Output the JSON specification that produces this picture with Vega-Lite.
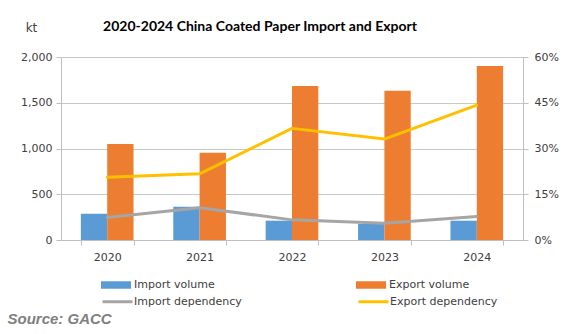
{
  "$schema": "https://vega.github.io/schema/vega-lite/v6.json",
  "width": 462,
  "height": 183,
  "autosize": "none",
  "padding": {"left": 61, "top": 57, "right": 55, "bottom": 94},
  "background": "white",
  "title": {"text": "2020-2024 China Coated Paper Import and Export", "font": "Lato", "fontSize": 14, "fontWeight": "bold", "color": "#000000", "anchor": "middle", "offset": -13, "dx": -32, "frame": "group"},
  "config": {"view": {"stroke": null}, "font": "DejaVu Sans"},
  "data": {"values": [
    {"year": "2020", "series": "Import volume", "kind": "volume", "value": 287},
    {"year": "2021", "series": "Import volume", "kind": "volume", "value": 364},
    {"year": "2022", "series": "Import volume", "kind": "volume", "value": 211},
    {"year": "2023", "series": "Import volume", "kind": "volume", "value": 175},
    {"year": "2024", "series": "Import volume", "kind": "volume", "value": 211},
    {"year": "2020", "series": "Export volume", "kind": "volume", "value": 1049},
    {"year": "2021", "series": "Export volume", "kind": "volume", "value": 954},
    {"year": "2022", "series": "Export volume", "kind": "volume", "value": 1683},
    {"year": "2023", "series": "Export volume", "kind": "volume", "value": 1632},
    {"year": "2024", "series": "Export volume", "kind": "volume", "value": 1902},
    {"year": "2020", "series": "Import dependency", "kind": "dependency", "value": 0.074},
    {"year": "2021", "series": "Import dependency", "kind": "dependency", "value": 0.106},
    {"year": "2022", "series": "Import dependency", "kind": "dependency", "value": 0.066},
    {"year": "2023", "series": "Import dependency", "kind": "dependency", "value": 0.055},
    {"year": "2024", "series": "Import dependency", "kind": "dependency", "value": 0.077},
    {"year": "2020", "series": "Export dependency", "kind": "dependency", "value": 0.206},
    {"year": "2021", "series": "Export dependency", "kind": "dependency", "value": 0.217},
    {"year": "2022", "series": "Export dependency", "kind": "dependency", "value": 0.366},
    {"year": "2023", "series": "Export dependency", "kind": "dependency", "value": 0.331},
    {"year": "2024", "series": "Export dependency", "kind": "dependency", "value": 0.442}
  ]},
  "layer": [
    {
      "transform": [{"filter": "datum.kind == 'volume'"}],
      "mark": {"type": "bar"},
      "encoding": {
        "x": {
          "field": "year", "type": "nominal",
          "scale": {"paddingInner": 0.43, "paddingOuter": 0.215},
          "axis": {
            "labelAngle": 0, "labelFontSize": 11, "labelColor": "#404040", "labelPadding": 6,
            "tickBand": "extent", "tickSize": 5, "tickColor": "#bfbfbf", "domainColor": "#bfbfbf",
            "grid": false,
            "title": "Source: GACC", "titleX": -54, "titleY": 78, "titleAlign": "left", "titleBaseline": "middle",
            "titleFont": "Liberation Sans", "titleFontSize": 15, "titleFontStyle": "italic", "titleFontWeight": "bold", "titleColor": "#808080"
          }
        },
        "xOffset": {"field": "series", "type": "nominal", "sort": ["Import volume", "Export volume"]},
        "y": {
          "field": "value", "type": "quantitative",
          "scale": {"domain": [0, 2000]},
          "axis": {
            "values": [0, 500, 1000, 1500, 2000], "format": ",.0f",
            "grid": true, "gridColor": "#c8c8c8", "domainColor": "#bfbfbf", "tickColor": "#bfbfbf", "tickSize": 5,
            "labelPadding": 4, "labelFontSize": 11, "labelColor": "#404040",
            "title": "kt", "titleAngle": 0, "titleX": -30, "titleY": -30, "titleAlign": "center", "titleBaseline": "middle",
            "titleFontSize": 12, "titleFontWeight": "normal", "titleColor": "#404040"
          }
        },
        "fill": {
          "field": "series", "type": "nominal",
          "scale": {"domain": ["Import volume", "Export volume"], "range": ["#5b9bd5", "#ed7d31"]},
          "legend": {
            "orient": "none", "legendX": 40, "legendY": 213, "direction": "horizontal", "columns": 2, "columnPadding": 141,
            "title": null, "padding": 0, "symbolType": "M-1,-0.25H1V0.25H-1Z", "symbolSize": 900, "symbolStrokeWidth": 0,
            "labelFontSize": 11, "labelColor": "#404040", "labelOffset": 3, "labelLimit": 300
          }
        }
      }
    },
    {
      "transform": [{"filter": "datum.kind == 'dependency'"}],
      "mark": {"type": "line", "strokeWidth": 3, "interpolate": "linear", "strokeJoin": "round", "strokeCap": "round"},
      "encoding": {
        "x": {"field": "year", "type": "nominal"},
        "y": {
          "field": "value", "type": "quantitative",
          "scale": {"domain": [0, 0.6]},
          "axis": {
            "orient": "right", "values": [0, 0.15, 0.3, 0.45, 0.6], "format": ".0%",
            "grid": false, "domainColor": "#bfbfbf", "tickColor": "#bfbfbf", "tickSize": 5,
            "labelPadding": 6, "labelFontSize": 11, "labelColor": "#404040", "title": null
          }
        },
        "stroke": {
          "field": "series", "type": "nominal",
          "scale": {"domain": ["Import dependency", "Export dependency"], "range": ["#a5a5a5", "#ffc000"]},
          "legend": {
            "orient": "none", "legendX": 40, "legendY": 228, "direction": "horizontal", "columns": 2, "columnPadding": 110,
            "title": null, "padding": 0, "symbolType": "stroke", "symbolSize": 900, "symbolStrokeWidth": 3,
            "labelFontSize": 11, "labelColor": "#404040", "labelOffset": 0, "labelLimit": 300
          }
        }
      }
    }
  ],
  "resolve": {"scale": {"y": "independent", "fill": "independent", "stroke": "independent"}}
}
